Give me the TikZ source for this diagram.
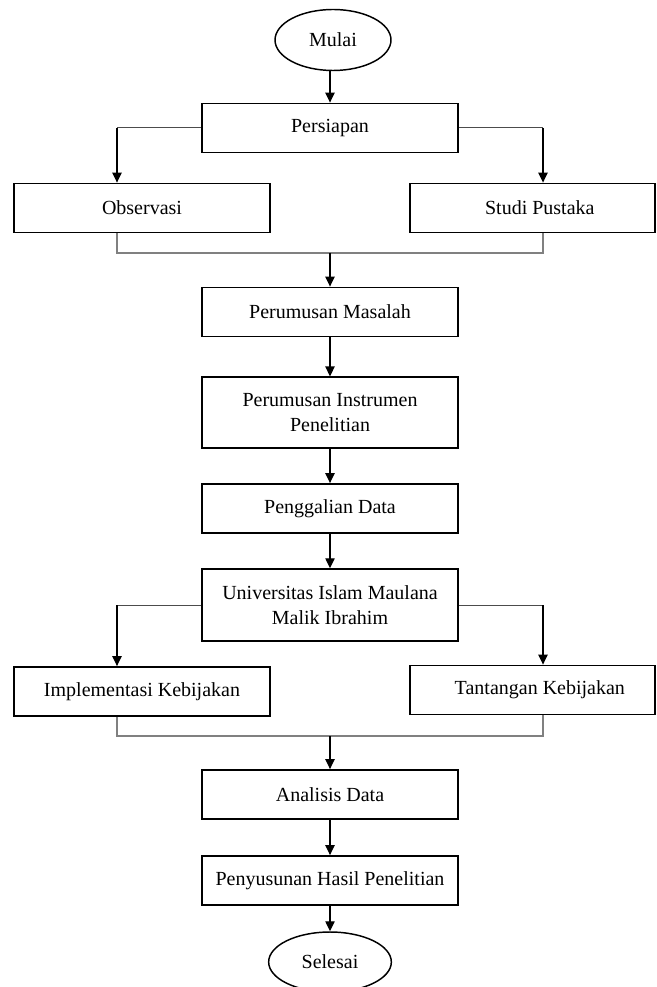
\documentclass[tikz,border=0pt]{standalone}
\usepackage{fontspec}
\setmainfont{Liberation Serif}
\usetikzlibrary{shapes.geometric,arrows.meta}
\begin{document}
\begin{tikzpicture}[x=0.75pt,y=-0.75pt,
  every node/.style={font=\fontsize{15pt}{18.75pt}\selectfont, inner sep=0pt, align=center},
  box/.style={draw=black, line width=1.1pt, rectangle, minimum width=192pt, minimum height=37pt},
  sidebox/.style={draw=black, line width=1.1pt, rectangle, minimum width=192pt, minimum height=37pt},
  term/.style={draw=black, line width=1.1pt, ellipse},
  arr/.style={draw=black, line width=1pt, -{Triangle[length=7.5pt,width=7pt]}},
  hline/.style={draw=black!70, line width=0.75pt},
  merge/.style={draw=black!50, line width=0.9pt}]
\useasboundingbox (0,0) rectangle (656,987);
\clip (0,0) rectangle (656,987);
% branch x positions
\coordinate (L) at (117,0);
\coordinate (R) at (543,0);
% nodes
\node[term, minimum width=87pt, minimum height=45.75pt] (mulai) at (333,40) {Mulai};
\node[box] (persiapan) at (330,128) {Persiapan};
\node[sidebox] (obs) at (142,208) {Observasi};
\node[sidebox, minimum width=183.5pt] (studi) at (532.5,208) {\hspace*{11pt}Studi Pustaka};
\coordinate (m1) at (330,253);
\node[box] (pm) at (330,312) {Perumusan Masalah};
\node[box, minimum height=53pt] (pi) at (330,412.5) {Perumusan Instrumen\\Penelitian};
\node[box] (pd) at (330,508.5) {Penggalian Data};
\node[box, minimum height=54pt] (uin) at (330,605) {Universitas Islam Maulana\\Malik Ibrahim};
\node[sidebox] (impl) at (142,691.5) {Implementasi Kebijakan};
\node[sidebox, minimum width=183.5pt] (tant) at (532.5,690) {\hspace*{11pt}Tantangan Kebijakan};
\coordinate (m2) at (330,736);
\node[box] (ad) at (330,794.5) {Analisis Data};
\node[box] (ph) at (330,880.5) {Penyusunan Hasil Penelitian};
\node[term, minimum width=92pt, minimum height=45pt] (selesai) at (330,962) {Selesai};
% connectors
\draw[arr] (persiapan.north |- mulai.south) -- (persiapan.north);
\draw[hline] (persiapan.west) -- (persiapan.west -| L);
\draw[arr] (persiapan.west -| L) -- (obs.north -| L);
\draw[hline] (persiapan.east) -- (persiapan.east -| R);
\draw[arr] (persiapan.east -| R) -- (studi.north -| R);
\draw[merge] (obs.south -| L) |- (m1) -| (studi.south -| R);
\draw[arr] (m1) -- (pm.north);
\draw[arr] (pm.south) -- (pi.north);
\draw[arr] (pi.south) -- (pd.north);
\draw[arr] (pd.south) -- (uin.north);
\draw[hline] (uin.west) -- (uin.west -| L);
\draw[arr] (uin.west -| L) -- (impl.north -| L);
\draw[hline] (uin.east) -- (uin.east -| R);
\draw[arr] (uin.east -| R) -- (tant.north -| R);
\draw[merge] (impl.south -| L) |- (m2) -| (tant.south -| R);
\draw[arr] (m2) -- (ad.north);
\draw[arr] (ad.south) -- (ph.north);
\draw[arr] (ph.south) -- (selesai.north);
\end{tikzpicture}
\end{document}
